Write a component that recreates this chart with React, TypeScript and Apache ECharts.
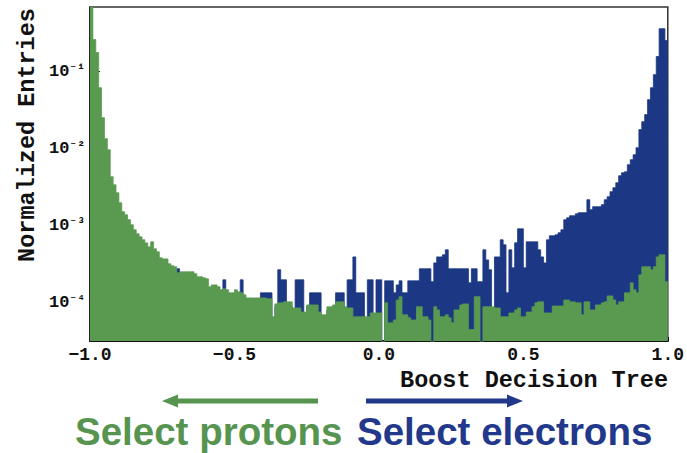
import React, { useEffect, useRef } from "react";
import * as echarts from "echarts";

// Histogram binning (200 bins of width 0.01 over the BDT range)
const BIN_START = -1.0;
const BIN_WIDTH = 0.01;

const X_TICKS = [-1.0, -0.5, 0.0, 0.5, 1.0];
const Y_TICK_LABELS = ["10⁻⁴", "10⁻³", "10⁻²", "10⁻¹"];

const X_TITLE = "Boost Decision Tree";
const Y_TITLE = "Normalized Entries";
const PROTON_LABEL = "Select protons";
const ELECTRON_LABEL = "Select electrons";

// Electrons (blue), normalized entries per bin
const electrons = [
  1.0e-4, 1.1e-4, 1.0e-4, 0.9e-4, 1.0e-4, 1.1e-4, 1.0e-4, 0.9e-4, 1.0e-4, 1.1e-4,
  1.0e-4, 0.9e-4, 1.0e-4, 1.0e-4, 1.1e-4, 1.0e-4, 0.9e-4, 1.0e-4, 1.0e-4, 1.1e-4,
  1.0e-4, 0.9e-4, 1.0e-4, 1.0e-4, 1.1e-4, 1.0e-4, 0.9e-4, 1.0e-4, 1.0e-4, 1.0e-4,
  2.77e-4, 1.0e-4, 1.1e-4, 1.0e-4, 0.9e-4, 1.0e-4, 1.0e-4, 1.1e-4, 1.0e-4, 0.9e-4,
  1.0e-4, 1.0e-4, 1.1e-4, 1.0e-4, 1.0e-4, 1.0e-4, 1.99e-4, 1.0e-4, 1.0e-4, 0.9e-4,
  1.0e-4, 1.0e-4, 1.99e-4, 1.0e-4, 0.9e-4, 1.0e-4, 1.0e-4, 0.9e-4, 1.0e-4, 1.35e-4,
  1.35e-4, 1.35e-4, 1.35e-4, 0.6e-4, 0.9e-4, 2.69e-4, 1.99e-4, 1.99e-4, 0.9e-4, 0.9e-4,
  0.8e-4, 1.99e-4, 1.99e-4, 1.99e-4, 0.7e-4, 0.9e-4, 1.35e-4, 1.35e-4, 1.35e-4, 1.35e-4,
  0.65e-4, 0.65e-4, 0.8e-4, 0.8e-4, 0.9e-4, 1.35e-4, 1.35e-4, 1.35e-4, 0.8e-4, 1.99e-4,
  1.99e-4, 3.95e-4, 1.35e-4, 1.35e-4, 1.35e-4, 0.6e-4, 1.99e-4, 1.99e-4, 0.7e-4, 1.99e-4,
  1.99e-4, 1e-6, 1.93e-4, 1.93e-4, 1.93e-4, 1.35e-4, 1.71e-4, 1.93e-4, 1.35e-4, 1.35e-4,
  1.93e-4, 1.93e-4, 1.93e-4, 1.93e-4, 2.77e-4, 2.77e-4, 2.77e-4, 2.77e-4, 1.88e-4, 3.3e-4,
  3.95e-4, 3.95e-4, 4.2e-4, 4.88e-4, 2.77e-4, 2.77e-4, 2.77e-4, 2.77e-4, 2.77e-4, 2.77e-4,
  2.77e-4, 1.82e-4, 2.77e-4, 2.77e-4, 1.88e-4, 1.88e-4, 4.88e-4, 3.61e-4, 2.69e-4, 0.81e-4,
  3.95e-4, 3.95e-4, 6.58e-4, 5.66e-4, 1.35e-4, 4.88e-4, 2.85e-4, 6.01e-4, 9.14e-4, 9.14e-4,
  2.85e-4, 6.19e-4, 6.19e-4, 6.19e-4, 6.19e-4, 4.88e-4, 3.95e-4, 3.3e-4, 6.58e-4, 7.42e-4,
  7.42e-4, 7.64e-4, 8.11e-4, 8.88e-4, 1.2e-3, 1.27e-3, 1.35e-3, 1.35e-3, 1.43e-3, 1.48e-3,
  1.48e-3, 1.48e-3, 2.18e-3, 1.62e-3, 1.77e-3, 1.77e-3, 1.77e-3, 1.88e-3, 2.18e-3, 2.38e-3,
  2.77e-3, 3.12e-3, 3.61e-3, 4.46e-3, 4.88e-3, 5.02e-3, 6.2e-3, 7.2e-3, 8.36e-3, 1.03e-2,
  1.77e-2, 2.24e-2, 2.77e-2, 4.33e-2, 6.19e-2, 9.14e-2, 0.157, 0.361, 0.361, 0.253,
];

// Protons (green), normalized entries per bin
const protons = [
  0.9, 0.261, 0.177, 0.0619, 0.0253, 0.0135, 0.0097, 0.00433, 0.0034, 0.00268,
  0.00199, 0.00152, 0.00139, 0.0012, 0.00103, 8.88e-4, 7.87e-4, 7.2e-4, 6.58e-4, 6.0e-4,
  5.33e-4, 6.19e-4, 5.02e-4, 4.59e-4, 3.84e-4, 3.72e-4, 3.72e-4, 3.21e-4, 3.03e-4, 2.94e-4,
  2.45e-4, 2.53e-4, 2.53e-4, 2.53e-4, 2.53e-4, 2.53e-4, 2.38e-4, 2.18e-4, 2.18e-4, 2.11e-4,
  2.05e-4, 1.62e-4, 1.71e-4, 1.71e-4, 1.62e-4, 1.48e-4, 1.52e-4, 1.48e-4, 1.35e-4, 1.35e-4,
  1.48e-4, 1.39e-4, 1.35e-4, 1.27e-4, 1.16e-4, 1.16e-4, 1.16e-4, 1.16e-4, 1.16e-4, 1.16e-4,
  1.16e-4, 1.13e-4, 1.13e-4, 0.66e-4, 0.97e-4, 1.0e-4, 1.0e-4, 1.03e-4, 1.03e-4, 1.03e-4,
  0.86e-4, 0.86e-4, 0.86e-4, 0.76e-4, 0.76e-4, 0.94e-4, 0.94e-4, 0.94e-4, 0.94e-4, 0.76e-4,
  0.7e-4, 0.7e-4, 0.89e-4, 0.89e-4, 0.94e-4, 1.03e-4, 1.03e-4, 1.03e-4, 0.89e-4, 0.86e-4,
  0.86e-4, 0.66e-4, 0.66e-4, 0.66e-4, 0.66e-4, 0.66e-4, 0.66e-4, 0.74e-4, 0.74e-4, 0.74e-4,
  0.74e-4, 1e-6, 1.0e-4, 0.55e-4, 0.55e-4, 0.6e-4, 1.09e-4, 1.2e-4, 0.7e-4, 0.7e-4,
  0.64e-4, 0.6e-4, 0.6e-4, 0.89e-4, 0.89e-4, 0.66e-4, 0.66e-4, 0.6e-4, 1e-6, 0.89e-4,
  0.81e-4, 0.66e-4, 0.66e-4, 0.7e-4, 0.64e-4, 0.55e-4, 0.81e-4, 0.81e-4, 0.94e-4, 0.97e-4,
  0.97e-4, 0.45e-4, 0.45e-4, 1.2e-4, 1.2e-4, 1e-6, 0.89e-4, 0.89e-4, 0.89e-4, 0.89e-4,
  0.86e-4, 0.86e-4, 0.66e-4, 0.66e-4, 0.66e-4, 0.74e-4, 0.74e-4, 0.81e-4, 0.86e-4, 0.66e-4,
  0.66e-4, 0.76e-4, 0.76e-4, 0.89e-4, 1.0e-4, 1.03e-4, 1.03e-4, 0.74e-4, 0.74e-4, 0.74e-4,
  0.91e-4, 0.91e-4, 0.91e-4, 0.91e-4, 1.09e-4, 1.09e-4, 1.03e-4, 1.03e-4, 1.0e-4, 1.0e-4,
  0.7e-4, 1.03e-4, 1.03e-4, 0.81e-4, 0.81e-4, 0.94e-4, 0.94e-4, 1.0e-4, 1.03e-4, 1.23e-4,
  1.23e-4, 1.09e-4, 0.94e-4, 1.03e-4, 1.03e-4, 1.35e-4, 1.35e-4, 1.82e-4, 1.48e-4, 1.35e-4,
  2.31e-4, 2.94e-4, 2.94e-4, 2.94e-4, 2.69e-4, 2.94e-4, 3.95e-4, 4.2e-4, 4.2e-4, 1.88e-4,
];

const GREEN = "#599a50";
const BLUE = "#1c3783";
const GREEN_TEXT = "#569450";
const BLUE_TEXT = "#22388a";
const MONO = '"Liberation Mono", "DejaVu Sans Mono", monospace';
const SANS = '"Liberation Sans", Arial, sans-serif';

function toSteps(vals: number[]): number[][] {
  const pts = vals.map((v, i) => [BIN_START + i * BIN_WIDTH, v]);
  pts.push([BIN_START + vals.length * BIN_WIDTH, vals[vals.length - 1]]);
  return pts;
}

function fmtX(v: number): string {
  const s = Math.abs(v).toFixed(1);
  return v < 0 ? "−" + s : s;
}

export default function App() {
  const ref = useRef<HTMLDivElement>(null);

  useEffect(() => {
    if (!ref.current) return;
    const chart = echarts.init(ref.current, null, { renderer: "svg" });
    const yLabelMap: Record<string, string> = {};
    [-4, -3, -2, -1].forEach((e, i) => {
      yLabelMap[String(e)] = Y_TICK_LABELS[i];
    });

    chart.setOption({
      animation: false,
      backgroundColor: "#ffffff",
      grid: {
        left: 90,
        top: 7,
        width: 579,
        height: 334,
        show: true,
        borderColor: "#333333",
        borderWidth: 1.5,
        backgroundColor: "transparent",
      },
      xAxis: {
        type: "value",
        min: X_TICKS[0],
        max: X_TICKS[X_TICKS.length - 1],
        interval: 0.5,
        axisLine: { show: true, onZero: false, lineStyle: { color: "#111", width: 2 } },
        axisTick: { show: true, inside: true, length: 4, lineStyle: { color: "#111" } },
        splitLine: { show: false },
        axisLabel: {
          formatter: (v: number) => fmtX(v),
          fontFamily: MONO,
          fontWeight: "bold",
          fontSize: 18,
          color: "#111",
          margin: 5,
        },
      },
      yAxis: {
        type: "log",
        logBase: 10,
        min: 3.2e-5,
        max: 0.69,
        axisLine: { show: true, onZero: false, lineStyle: { color: "#111", width: 1.5 } },
        axisTick: { show: true, inside: true, length: 10, lineStyle: { color: "#111" } },
        splitLine: { show: false },
        axisLabel: {
          showMinLabel: false,
          showMaxLabel: false,
          margin: 5,
          formatter: (v: number) => {
            const e = Math.round(Math.log10(v));
            const lab = yLabelMap[String(e)];
            if (!lab) return "";
            return "{b|10}{s|" + lab.slice(2) + "}";
          },
          rich: {
            b: { fontFamily: MONO, fontWeight: "bold", fontSize: 17, color: "#111" },
            s: { fontFamily: MONO, fontWeight: "bold", fontSize: 13, color: "#111", verticalAlign: "top" },
          },
        },
      },
      series: [
        {
          name: "electrons",
          type: "line",
          step: "end",
          data: toSteps(electrons),
          symbol: "none",
          clip: true,
          lineStyle: { color: BLUE, width: 0.8 },
          areaStyle: { color: BLUE, opacity: 1, origin: "start" },
          z: 2,
        },
        {
          name: "protons",
          type: "line",
          step: "end",
          data: toSteps(protons),
          symbol: "none",
          clip: true,
          lineStyle: { color: GREEN, width: 0.8 },
          areaStyle: { color: GREEN, opacity: 1, origin: "start" },
          z: 3,
        },
      ],
      graphic: [
        {
          type: "text",
          x: 668,
          y: 380,
          style: {
            text: X_TITLE,
            fontFamily: MONO,
            fontWeight: "bold",
            fontSize: 23.5,
            fill: "#111",
            align: "right",
            verticalAlign: "middle",
          },
        },
        {
          type: "text",
          x: 27,
          y: 135,
          rotation: Math.PI / 2,
          style: {
            text: Y_TITLE,
            fontFamily: MONO,
            fontWeight: "bold",
            fontSize: 23.5,
            fill: "#111",
            align: "center",
            verticalAlign: "middle",
          },
        },
        {
          type: "line",
          shape: { x1: 176, y1: 401, x2: 318, y2: 401 },
          style: { stroke: GREEN_TEXT, lineWidth: 5 },
        },
        {
          type: "polygon",
          shape: { points: [[162, 401], [178, 394.5], [178, 407.5]] },
          style: { fill: GREEN_TEXT },
        },
        {
          type: "line",
          shape: { x1: 366, y1: 401, x2: 510, y2: 401 },
          style: { stroke: BLUE_TEXT, lineWidth: 5 },
        },
        {
          type: "polygon",
          shape: { points: [[523, 401], [507, 394.5], [507, 407.5]] },
          style: { fill: BLUE_TEXT },
        },
        {
          type: "text",
          x: 75,
          y: 431,
          style: {
            text: PROTON_LABEL,
            fontFamily: SANS,
            fontWeight: "bold",
            fontSize: 38.5,
            fill: GREEN_TEXT,
            align: "left",
            verticalAlign: "middle",
          },
        },
        {
          type: "text",
          x: 357,
          y: 431,
          style: {
            text: ELECTRON_LABEL,
            fontFamily: SANS,
            fontWeight: "bold",
            fontSize: 38.5,
            fill: BLUE_TEXT,
            align: "left",
            verticalAlign: "middle",
          },
        },
      ],
    });

    return () => chart.dispose();
  }, []);

  return (
    <div
      ref={ref}
      style={{ position: "fixed", left: 0, top: 0, width: 687, height: 453, background: "#fff" }}
    />
  );
}
